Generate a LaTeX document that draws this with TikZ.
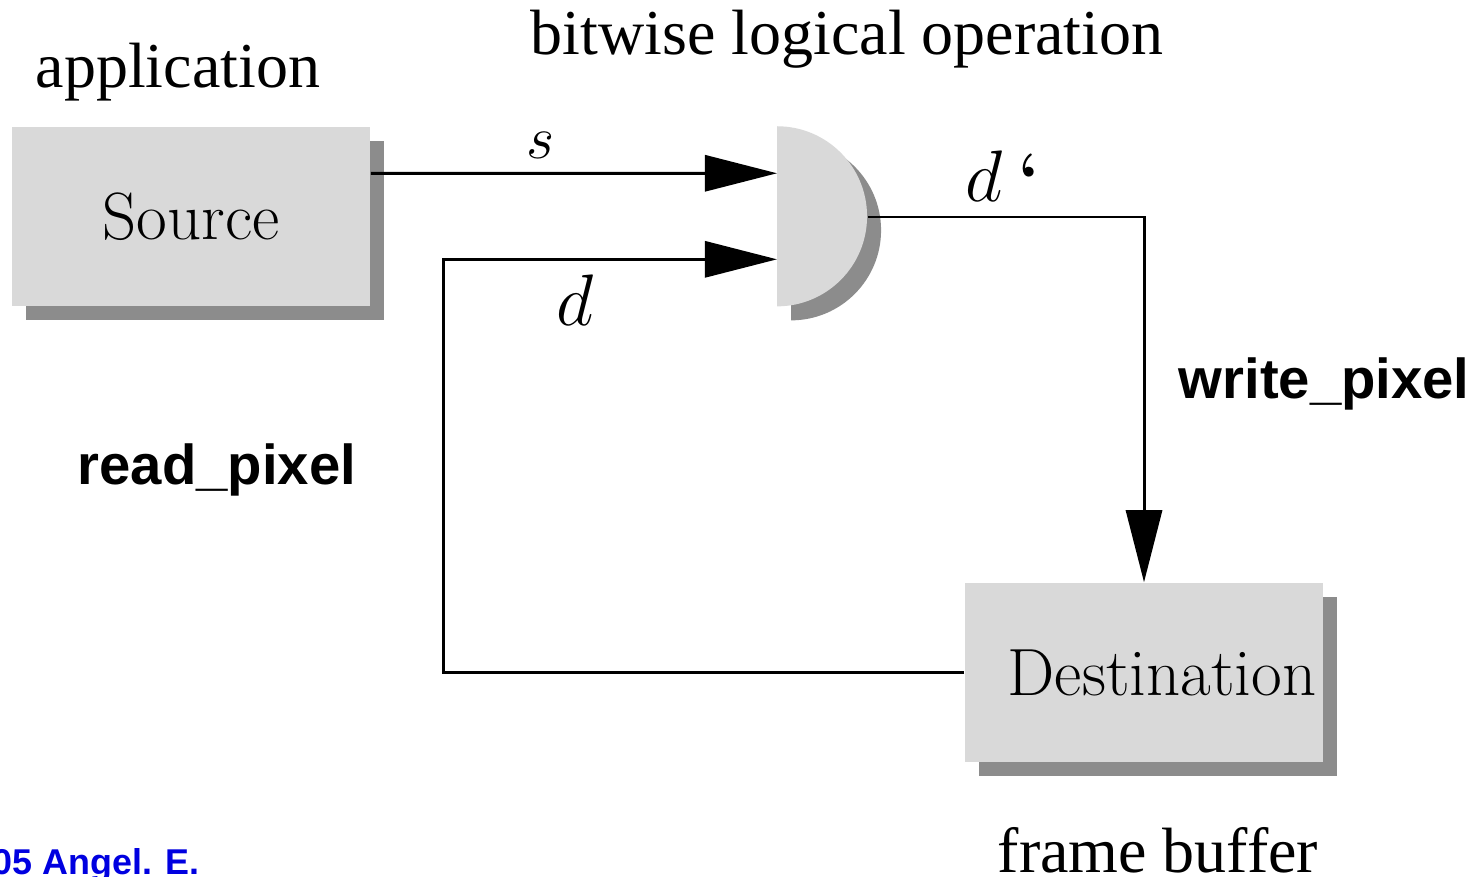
\documentclass[tikz,border=0pt]{standalone}
\usepackage{fontspec}
\newfontfamily\timesf{Liberation Serif}
\newfontfamily\arialf{Liberation Sans}
\usetikzlibrary{arrows.meta,shadows}

\definecolor{boxgray}{HTML}{D9D9D9}
\definecolor{shadowgray}{HTML}{8C8C8C}
\definecolor{credblue}{HTML}{0000E0}

\tikzset{
  block/.style={fill=boxgray, inner sep=0pt, minimum width=3.58cm, minimum height=1.79cm,
    font=\fontsize{19}{22}\selectfont,
    general shadow={fill=shadowgray, shadow xshift=0.14cm, shadow yshift=-0.14cm}},
  wire/.style={line width=0.85pt, black},
  arr/.style={wire, -{Triangle[length=0.72cm,width=0.36cm]}},
  serif label/.style={inner sep=0pt, anchor=base west, font=\timesf\fontsize{18.2}{20}\selectfont},
  func label/.style={inner sep=0pt, anchor=base west, font=\arialf\bfseries\fontsize{16}{18}\selectfont},
  var label/.style={inner sep=0pt, anchor=base west, font=\fontsize{17.4}{20}\selectfont},
}

\begin{document}
\begin{tikzpicture}[x=0.01cm, y=-0.01cm]
\useasboundingbox (0,0) rectangle (1480,876);

% source and destination buffers
\node[block] (src) at (191,216.5) {\raisebox{-0.03cm}{Source}};
\node[block] (dst) at (1144,672.5) {\hspace*{0.36cm}Destination};

% logical operation gate (half disk with drop shadow)
\node[inner sep=0pt, minimum width=0.9cm, minimum height=1.8cm, anchor=west] (gate) at (777,217) {};
\fill[shadowgray] ([shift={(0.14cm,-0.14cm)}]gate.north west)
  arc[start angle=90, end angle=-90, radius=0.9cm] -- cycle;
\fill[boxgray] (gate.north west)
  arc[start angle=90, end angle=-90, radius=0.9cm] -- cycle;

% connectors
\coordinate (loop) at (443,672.5);
\draw[arr] ([yshift=-0.47cm]src.north east) -- ([yshift=-0.47cm]gate.north west);
\draw[arr] (dst.west) -- (loop) |- ([yshift=-1.33cm]gate.north west);
\draw[arr] (gate.east) -| (dst.north);

% labels
\node[serif label] (app) at (35,88) {application};
\node[serif label] (op) at (530,55) {bitwise logical operation};
\node[serif label] (fb) at (997,872) {frame buffer};
\node[var label] (ls) at (526,158) {$s$};
\node[var label, font=\fontsize{20.5}{22}\selectfont] (ld) at (556,325) {$d$};
\node[var label, font=\fontsize{19.5}{22}\selectfont] (ldp) at (965,201) {$d$\hspace{0.16cm}\textbf{\textquoteleft}};
\node[func label] (rp) at (77,484) {read\_pixel};
\node[func label] (wp) at (1178,398) {write\_pixel};
\node[inner sep=0pt, anchor=base west, text=credblue, font=\arialf\bfseries\fontsize{10.2}{12}\selectfont] (cred) at (-8,874) {05 Angel. E.};
\end{tikzpicture}
\end{document}
